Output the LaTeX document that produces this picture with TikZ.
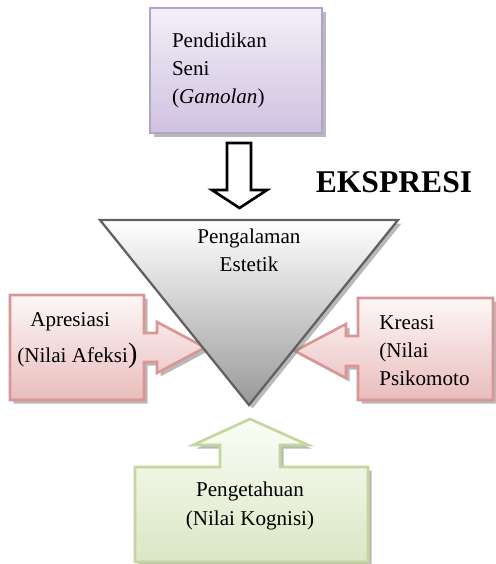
\documentclass[tikz,border=0pt]{standalone}
\usepackage{fontspec}
\setmainfont{Liberation Serif}
\usetikzlibrary{shadows}
\newcommand{\px}{0.02cm}

\definecolor{ungugaris}{HTML}{B4A3C9}
\definecolor{unguatas}{HTML}{F3EFF8}
\definecolor{ungubawah}{HTML}{CFC2E0}
\definecolor{merahgaris}{HTML}{D99694}
\definecolor{merahatas}{HTML}{FDF7F7}
\definecolor{merahbawah}{HTML}{E9BDBC}
\definecolor{hijaugaris}{HTML}{C3D69B}
\definecolor{hijauatas}{HTML}{FBFDF7}
\definecolor{hijaubawah}{HTML}{DAE7C4}

\begin{document}
\begin{tikzpicture}[x=\px, y=-\px,
    bayang/.style={drop shadow={shadow xshift=2pt, shadow yshift=-2pt, fill=black!50, opacity=.55}},
    kotakungu/.style={bayang, draw=ungugaris, line width=1.4pt, top color=unguatas, bottom color=ungubawah},
    kotakmerah/.style={bayang, draw=merahgaris, line width=1.5pt, top color=merahatas, bottom color=merahbawah, line join=miter},
    kotakhijau/.style={bayang, draw=hijaugaris, line width=1.5pt, top color=hijauatas, bottom color=hijaubawah, line join=miter},
    segitiga/.style={bayang, draw=black!62, line width=1.3pt, top color=white, bottom color=black!40},
    panahkosong/.style={draw=black, fill=white, line width=1.5pt, line join=miter},
    teks/.style={font=\fontsize{12}{16}\selectfont, inner sep=0pt}]
    \useasboundingbox (0,0) rectangle (496,564);

    % Kiri dan kanan (di bawah segitiga)
    \filldraw[kotakmerah] (10,295) -- (144,295) -- (144,333) -- (157,333) -- (157,322) -- (205,347.5)
        -- (157,373) -- (157,362) -- (144,362) -- (144,400) -- (10,400) -- cycle;
    \filldraw[kotakmerah] (493,298) -- (358,298) -- (358,336) -- (346,336) -- (346,324) -- (295,351)
        -- (346,378) -- (346,366) -- (358,366) -- (358,400) -- (493,400) -- cycle;

    % Segitiga
    \filldraw[segitiga] (100,220) -- (398,220) -- (249,405) -- cycle;

    % Bawah
    \filldraw[kotakhijau] (135,467) -- (220,467) -- (220,445) -- (193,445) -- (250,419) -- (308,445)
        -- (280,445) -- (280,467) -- (368,467) -- (368,562) -- (135,562) -- cycle;

    % Atas
    \node[kotakungu, minimum width=3.44cm, minimum height=2.5cm, inner xsep=0.44cm, text width=2.56cm,
        align=left, font=\fontsize{12}{16}\selectfont] (seni) at (236,70.5)
        {Pendidikan\\Seni\\(\textit{Gamolan})};
    \filldraw[panahkosong] (227,143) -- (251,143) -- (251,190) -- (267,190) -- (239.5,208) -- (212,190)
        -- (227,190) -- cycle;

    % Teks
    \node[font=\fontsize{18}{20}\selectfont\bfseries, inner sep=0pt] (ekspresi) at (394,182) {EKSPRESI};
    \node[teks, align=center] (estetik) at (249,250.5) {Pengalaman\\Estetik};
    \node[teks, align=left, anchor=west, font=\fontsize{12}{20}\selectfont] (apresiasi) at (17,340.5)
        {\hspace{0.26cm}Apresiasi\\(Nilai Afeksi{\fontsize{16}{16}\selectfont)}};
    \node[teks, align=left, anchor=west] (kreasi) at (379,350.5) {Kreasi\\(Nilai\\Psikomoto};
    \node[teks, align=center] (pengetahuan) at (250,506) {Pengetahuan\\(Nilai Kognisi)};

\end{tikzpicture}
\end{document}
